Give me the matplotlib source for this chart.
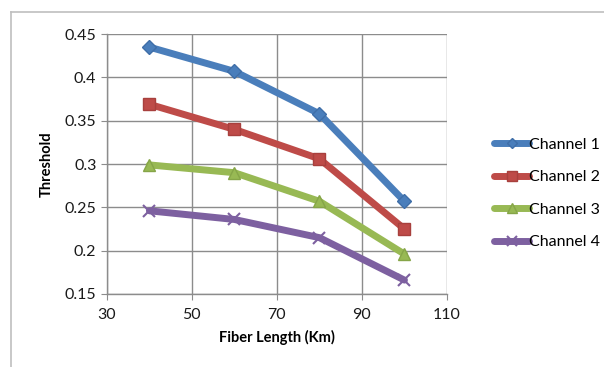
import matplotlib
matplotlib.use("Agg")
import matplotlib.pyplot as plt
from matplotlib.lines import Line2D

plt.rcParams['font.family'] = ['Lato', 'DejaVu Sans']

fiber_length = [40, 60, 80, 100]
channel_1 = [0.435, 0.407, 0.358, 0.257]
channel_2 = [0.369, 0.340, 0.306, 0.225]
channel_3 = [0.299, 0.290, 0.257, 0.196]
channel_4 = [0.246, 0.236, 0.215, 0.166]
series_names = ["Channel 1", "Channel 2", "Channel 3", "Channel 4"]
x_ticks = [30, 50, 70, 90, 110]
y_ticks = [0.15, 0.2, 0.25, 0.3, 0.35, 0.4, 0.45]
y_tick_labels = ["0.15", "0.2", "0.25", "0.3", "0.35", "0.4", "0.45"]

fig = plt.figure(figsize=(6.04, 3.67), dpi=100)
ax = fig.add_axes([0.177, 0.199, 0.563, 0.708])

styles = [
    dict(color="#4A7EBB", marker="D", markersize=7, mec="#3F6EA8"),
    dict(color="#BE4B48", marker="s", markersize=9, mec="#A8403D"),
    dict(color="#98B954", marker="^", markersize=9, mec="#86A548"),
    dict(color="#7D60A0", marker="x", markersize=9, mec="#7D60A0", mew=1.5),
]
for vals, name, st in zip([channel_1, channel_2, channel_3, channel_4], series_names, styles):
    ax.plot(fiber_length, vals, lw=5, label=name, solid_capstyle="round",
            solid_joinstyle="round", **st)

ax.set_xlim(30, 110)
ax.set_ylim(0.15, 0.45)
ax.set_xticks(x_ticks)
ax.set_yticks(y_ticks)
ax.set_yticklabels(y_tick_labels)
ax.grid(True, color="#8C8C8C", lw=1.0)
ax.set_axisbelow(True)
for side in ["top", "right"]:
    ax.spines[side].set_visible(False)
for side in ["left", "bottom"]:
    ax.spines[side].set_color("#8C8C8C")
    ax.spines[side].set_linewidth(1.0)
ax.tick_params(axis="both", direction="out", length=4, color="#8C8C8C",
               labelsize=11.5, labelcolor="#1A1A1A")
ax.tick_params(axis="x", pad=6)

ax.set_xlabel("Fiber Length (Km)", fontsize=10.5, fontweight="bold", labelpad=6)
ax.set_ylabel("Threshold", fontsize=10.5, fontweight="bold", labelpad=8)

ax.legend(loc="center left", bbox_to_anchor=(1.115, 0.387), frameon=False,
          fontsize=11.5, handlelength=2.2, handletextpad=0.0,
          labelspacing=1.15, borderpad=0, markerscale=0.75)

# chart-area border
fig.add_artist(Line2D([11 / 604, 1], [1 - 12 / 367, 1 - 12 / 367],
                      transform=fig.transFigure, color="#BFBFBF", lw=1.2))
fig.add_artist(Line2D([11 / 604, 11 / 604], [0, 1 - 12 / 367],
                      transform=fig.transFigure, color="#BFBFBF", lw=1.2))

fig.savefig("out.png", dpi=100)
